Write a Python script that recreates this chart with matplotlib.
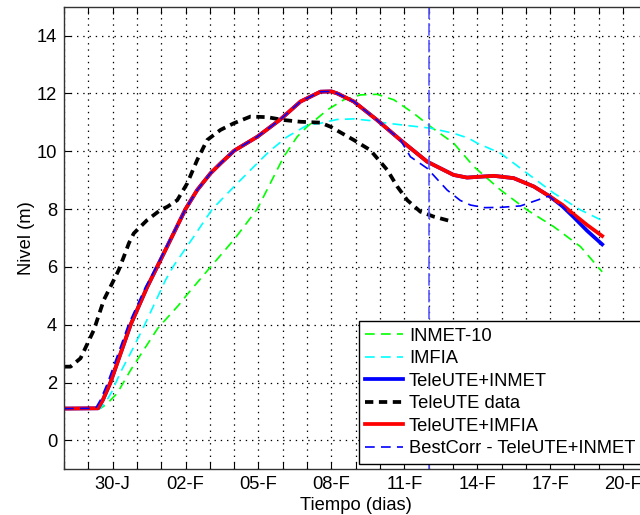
import matplotlib
matplotlib.use("Agg")
import matplotlib.pyplot as plt

plt.rcParams['font.family'] = ['Liberation Sans', 'DejaVu Sans']
plt.rcParams['lines.scale_dashes'] = False

# ---- data (time in days since 28-Jan) ----
inmet10_t = [0, 1.5, 1.75, 2.19, 2.74, 3.86, 4.72, 5.07, 6.03, 7.0, 7.95, 9.04, 9.59, 10.0, 10.42, 10.83,
             11.51, 12.2, 12.88, 13.57, 14.39, 15.08, 16.03, 16.86, 17.96, 19.05, 20.15, 21.25, 22.14]
inmet10_v = [1.1, 1.11, 1.25, 1.63, 2.43, 3.88, 4.68, 5.05, 6.0, 6.95, 8.0, 9.81, 10.5, 10.85, 11.14, 11.43,
             11.78, 11.95, 11.97, 11.78, 11.31, 10.85, 10.28, 9.47, 8.66, 7.97, 7.39, 6.7, 5.83]

imfia_t = [0, 1.5, 1.7, 1.98, 2.32, 2.8, 3.28, 4.18, 4.52, 5.3, 6.1, 7.0, 7.67, 8.45, 9.18, 10.0, 10.55,
           11.24, 11.92, 12.61, 13.3, 14.12, 15.08, 16.03, 16.65, 17.0, 17.96, 19.05, 20.15, 21.25, 22.1]
imfia_v = [1.1, 1.11, 1.3, 1.7, 2.35, 3.12, 3.93, 5.55, 6.05, 7.0, 8.0, 8.78, 9.35, 10.0, 10.5, 10.9, 10.97,
           11.1, 11.12, 11.06, 10.97, 10.89, 10.8, 10.62, 10.45, 10.28, 9.93, 9.24, 8.55, 7.97, 7.62]

tele_inmet_t = [0, 1.4, 1.6, 1.91, 2.74, 3.42, 3.83, 5.0, 5.48, 6.03, 6.44, 7.0, 7.95, 8.9, 9.73, 10.55,
                11.0, 11.24, 11.92, 12.88, 13.84, 14.94, 16.03, 16.58, 17.68, 18.5, 19.33, 20.0, 20.5,
                20.97, 21.52, 22.14]
tele_inmet_v = [1.1, 1.11, 1.4, 2.0, 4.0, 5.3, 6.0, 8.0, 8.66, 9.24, 9.58, 10.02, 10.5, 11.1, 11.72, 12.06,
                12.07, 12.0, 11.72, 11.08, 10.39, 9.64, 9.18, 9.09, 9.15, 9.07, 8.78, 8.43, 8.1,
                7.72, 7.25, 6.78]

tele_imfia_t = [0, 1.4, 1.6, 1.91, 2.74, 3.42, 3.83, 5.0, 5.48, 6.03, 6.44, 7.0, 7.95, 8.9, 9.73, 10.55,
                11.0, 11.24, 11.92, 12.88, 13.84, 14.94, 16.03, 16.58, 17.68, 18.5, 19.33, 20.0, 20.5,
                20.97, 21.52, 22.14]
tele_imfia_v = [1.1, 1.11, 1.4, 2.0, 4.0, 5.3, 6.0, 8.0, 8.66, 9.24, 9.58, 10.02, 10.5, 11.1, 11.72, 12.06,
                12.07, 12.0, 11.72, 11.08, 10.39, 9.64, 9.18, 9.09, 9.15, 9.07, 8.78, 8.43, 8.15,
                7.82, 7.45, 7.07]

tele_data_t = [0.0, 0.27, 0.68, 1.23, 1.64, 1.98, 2.25, 2.46, 2.67, 2.87, 3.01, 3.42, 3.97, 4.25, 4.66, 5.07,
               5.48, 5.89, 6.44, 6.99, 7.67, 8.36, 9.04, 9.73, 10.55, 10.96, 11.92, 12.6, 13.3, 13.71,
               14.12, 14.66, 15.21, 15.83, 16.0]
tele_data_v = [2.55, 2.55, 2.84, 3.82, 4.86, 5.43, 5.89, 6.35, 6.82, 7.16, 7.28, 7.62, 7.97, 8.08, 8.31, 8.89,
               9.7, 10.39, 10.74, 10.97, 11.2, 11.18, 11.08, 11.02, 10.99, 10.85, 10.39, 10.04, 9.35, 8.78,
               8.31, 7.91, 7.74, 7.6, 7.58]

bestcorr_t = [0, 1.3, 1.5, 1.8, 2.65, 3.35, 3.8, 5.0, 5.48, 6.03, 6.44, 7.0, 7.95, 8.9, 9.73, 10.55, 11.0,
              11.24, 11.92, 12.88, 13.84, 14.25, 14.94, 15.76, 16.3, 16.72, 17.3, 17.96, 18.78, 19.47,
              19.94, 20.5, 20.97, 21.52, 22.14]
bestcorr_v = [1.1, 1.11, 1.4, 2.0, 4.0, 5.3, 6.0, 8.0, 8.66, 9.24, 9.58, 10.02, 10.5, 11.1, 11.72, 12.06,
              12.07, 12.0, 11.72, 11.08, 10.39, 9.81, 9.41, 8.66, 8.3, 8.14, 8.05, 8.06, 8.11, 8.31,
              8.45, 8.1, 7.72, 7.25, 6.78]

bestcorr_day = 15  # 12-F

tick_days = list(range(0, 25))
tick_labels = ['', '', '30-J', '', '', '02-F', '', '', '05-F', '', '', '08-F', '', '',
               '11-F', '', '', '14-F', '', '', '17-F', '', '', '20-F', '']
ytick_vals = [0, 2, 4, 6, 8, 10, 12, 14]

# ---- figure ----
fig = plt.figure(figsize=(6.4, 5.15), dpi=100)
ax = fig.add_axes([64 / 640, 45.7 / 515, 583.4 / 640, 462.6 / 515])

fs = 13.2
ax.plot(inmet10_t, inmet10_v, color=(0, 1, 0), lw=1.2, dashes=(7, 4.5), label='INMET-10')
ax.plot(imfia_t, imfia_v, color=(0, 1, 1), lw=1.2, dashes=(7, 4.5), label='IMFIA')
ax.plot(tele_inmet_t, tele_inmet_v, color=(0, 0, 1), lw=2.7, label='TeleUTE+INMET')
ax.plot(tele_data_t, tele_data_v, color='black', lw=2.7, dashes=(6, 4), label='TeleUTE data')
ax.plot(tele_imfia_t, tele_imfia_v, color=(1, 0, 0), lw=2.7, label='TeleUTE+IMFIA')
ax.plot(bestcorr_t, bestcorr_v, color=(0, 0, 1), lw=1.2, dashes=(7, 4.5), label='BestCorr - TeleUTE+INMET')
ax.axvline(bestcorr_day, color=(0.35, 0.35, 1.0), lw=1.2, dashes=(9, 3))

ax.set_xlim(0, 24)
ax.set_ylim(-1, 15)
ax.set_xticks(tick_days)
ax.set_xticklabels(tick_labels, fontsize=fs)
ax.set_yticks(ytick_vals)
ax.set_yticklabels([str(v) for v in ytick_vals], fontsize=fs)
ax.tick_params(direction='in', length=5, width=0.8, top=True, right=True, pad=5, colors='black')
ax.grid(True, color='black', linestyle=(0, (1, 3.5)), linewidth=0.9)
for s in ax.spines.values():
    s.set_linewidth(1.0)
    s.set_color('#333333')

ax.set_xlabel('Tiempo (dias)', fontsize=fs, labelpad=3)
ax.set_ylabel('Nivel (m)', fontsize=fs, labelpad=1)

leg = ax.legend(loc='lower left', bbox_to_anchor=(358.5 / 640, 51.5 / 515),
                bbox_transform=fig.transFigure, fontsize=fs, frameon=True, fancybox=False,
                framealpha=1, edgecolor='black', handlelength=2.1, handletextpad=0.3,
                labelspacing=0.3, borderpad=0.35, borderaxespad=0)
leg.get_frame().set_linewidth(1.0)

fig.savefig('out.png', dpi=100)
